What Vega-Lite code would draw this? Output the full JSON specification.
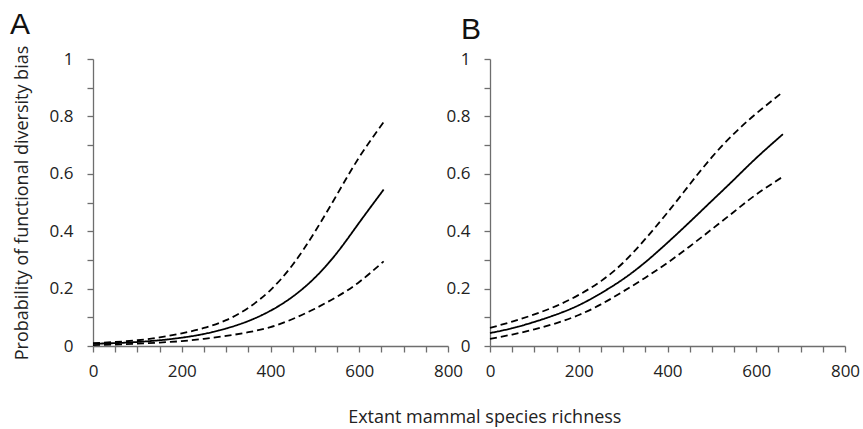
{
  "$schema": "https://vega.github.io/schema/vega-lite/v6.json",
  "background": "white",
  "padding": {"left": 10, "top": 10, "right": 0, "bottom": 0},
  "bounds": "flush",
  "spacing": 42,
  "config": {
    "font": "Open Sans",
    "view": {"stroke": null},
    "axis": {
      "grid": false,
      "ticks": true,
      "domainColor": "#6e6e6e",
      "tickColor": "#6e6e6e",
      "tickOpacity": 1,
      "domainWidth": 1.3,
      "tickWidth": 1.3,
      "tickSize": 6,
      "labelColor": "#222222",
      "labelFont": "Open Sans",
      "labelFontSize": 17,
      "titleFont": "Open Sans",
      "titleFontSize": 18,
      "titleFontWeight": "normal",
      "titleColor": "#222222"
    }
  },
  "title": {
    "text": "Extant mammal species richness",
    "orient": "bottom",
    "anchor": "middle",
    "font": "Open Sans",
    "fontSize": 18,
    "fontWeight": "normal",
    "color": "#222222",
    "offset": 30,
    "dx": 50
  },
  "datasets": {
    "curves": [
      {"panel": "A", "series": "mean", "x": 0, "p": 0.008},
      {"panel": "A", "series": "mean", "x": 50, "p": 0.01},
      {"panel": "A", "series": "mean", "x": 100, "p": 0.014},
      {"panel": "A", "series": "mean", "x": 150, "p": 0.02},
      {"panel": "A", "series": "mean", "x": 200, "p": 0.029},
      {"panel": "A", "series": "mean", "x": 250, "p": 0.042},
      {"panel": "A", "series": "mean", "x": 300, "p": 0.061},
      {"panel": "A", "series": "mean", "x": 350, "p": 0.087},
      {"panel": "A", "series": "mean", "x": 400, "p": 0.123},
      {"panel": "A", "series": "mean", "x": 450, "p": 0.172},
      {"panel": "A", "series": "mean", "x": 500, "p": 0.238},
      {"panel": "A", "series": "mean", "x": 550, "p": 0.325},
      {"panel": "A", "series": "mean", "x": 600, "p": 0.43},
      {"panel": "A", "series": "mean", "x": 655, "p": 0.545},
      {"panel": "A", "series": "upper", "x": 0, "p": 0.01},
      {"panel": "A", "series": "upper", "x": 50, "p": 0.014},
      {"panel": "A", "series": "upper", "x": 100, "p": 0.02},
      {"panel": "A", "series": "upper", "x": 150, "p": 0.03},
      {"panel": "A", "series": "upper", "x": 200, "p": 0.044},
      {"panel": "A", "series": "upper", "x": 250, "p": 0.063},
      {"panel": "A", "series": "upper", "x": 300, "p": 0.09},
      {"panel": "A", "series": "upper", "x": 350, "p": 0.133},
      {"panel": "A", "series": "upper", "x": 400, "p": 0.195},
      {"panel": "A", "series": "upper", "x": 450, "p": 0.283},
      {"panel": "A", "series": "upper", "x": 500, "p": 0.398},
      {"panel": "A", "series": "upper", "x": 550, "p": 0.528},
      {"panel": "A", "series": "upper", "x": 600, "p": 0.658},
      {"panel": "A", "series": "upper", "x": 655, "p": 0.78},
      {"panel": "A", "series": "lower", "x": 0, "p": 0.003},
      {"panel": "A", "series": "lower", "x": 50, "p": 0.005},
      {"panel": "A", "series": "lower", "x": 100, "p": 0.008},
      {"panel": "A", "series": "lower", "x": 150, "p": 0.012},
      {"panel": "A", "series": "lower", "x": 200, "p": 0.017},
      {"panel": "A", "series": "lower", "x": 250, "p": 0.025},
      {"panel": "A", "series": "lower", "x": 300, "p": 0.035},
      {"panel": "A", "series": "lower", "x": 350, "p": 0.048},
      {"panel": "A", "series": "lower", "x": 400, "p": 0.066},
      {"panel": "A", "series": "lower", "x": 450, "p": 0.094},
      {"panel": "A", "series": "lower", "x": 500, "p": 0.13},
      {"panel": "A", "series": "lower", "x": 550, "p": 0.172},
      {"panel": "A", "series": "lower", "x": 600, "p": 0.223},
      {"panel": "A", "series": "lower", "x": 655, "p": 0.295},
      {"panel": "B", "series": "mean", "x": 0, "p": 0.045},
      {"panel": "B", "series": "mean", "x": 50, "p": 0.062},
      {"panel": "B", "series": "mean", "x": 100, "p": 0.084},
      {"panel": "B", "series": "mean", "x": 150, "p": 0.11},
      {"panel": "B", "series": "mean", "x": 200, "p": 0.142},
      {"panel": "B", "series": "mean", "x": 250, "p": 0.184},
      {"panel": "B", "series": "mean", "x": 300, "p": 0.233},
      {"panel": "B", "series": "mean", "x": 350, "p": 0.292},
      {"panel": "B", "series": "mean", "x": 400, "p": 0.36},
      {"panel": "B", "series": "mean", "x": 450, "p": 0.432},
      {"panel": "B", "series": "mean", "x": 500, "p": 0.506},
      {"panel": "B", "series": "mean", "x": 550, "p": 0.58},
      {"panel": "B", "series": "mean", "x": 600, "p": 0.655},
      {"panel": "B", "series": "mean", "x": 660, "p": 0.738},
      {"panel": "B", "series": "upper", "x": 0, "p": 0.063},
      {"panel": "B", "series": "upper", "x": 50, "p": 0.085},
      {"panel": "B", "series": "upper", "x": 100, "p": 0.11},
      {"panel": "B", "series": "upper", "x": 150, "p": 0.14},
      {"panel": "B", "series": "upper", "x": 200, "p": 0.178},
      {"panel": "B", "series": "upper", "x": 250, "p": 0.226},
      {"panel": "B", "series": "upper", "x": 300, "p": 0.29},
      {"panel": "B", "series": "upper", "x": 350, "p": 0.373},
      {"panel": "B", "series": "upper", "x": 400, "p": 0.465},
      {"panel": "B", "series": "upper", "x": 450, "p": 0.563},
      {"panel": "B", "series": "upper", "x": 500, "p": 0.658},
      {"panel": "B", "series": "upper", "x": 550, "p": 0.74},
      {"panel": "B", "series": "upper", "x": 600, "p": 0.81},
      {"panel": "B", "series": "upper", "x": 660, "p": 0.885},
      {"panel": "B", "series": "lower", "x": 0, "p": 0.025},
      {"panel": "B", "series": "lower", "x": 50, "p": 0.04},
      {"panel": "B", "series": "lower", "x": 100, "p": 0.058},
      {"panel": "B", "series": "lower", "x": 150, "p": 0.08},
      {"panel": "B", "series": "lower", "x": 200, "p": 0.108},
      {"panel": "B", "series": "lower", "x": 250, "p": 0.145},
      {"panel": "B", "series": "lower", "x": 300, "p": 0.19},
      {"panel": "B", "series": "lower", "x": 350, "p": 0.238},
      {"panel": "B", "series": "lower", "x": 400, "p": 0.29},
      {"panel": "B", "series": "lower", "x": 450, "p": 0.347},
      {"panel": "B", "series": "lower", "x": 500, "p": 0.407},
      {"panel": "B", "series": "lower", "x": 550, "p": 0.468},
      {"panel": "B", "series": "lower", "x": 600, "p": 0.528},
      {"panel": "B", "series": "lower", "x": 660, "p": 0.59}
    ]
  },
  "hconcat": [
    {
      "title": {"text": "A", "anchor": "start", "frame": "group", "font": "Liberation Sans", "fontSize": 30, "fontWeight": "normal", "color": "#111111", "dx": -83, "offset": 5},
      "width": 355,
      "height": 287,
      "data": {"name": "curves"},
      "transform": [{"filter": "datum.panel == 'A'"}],
      "mark": {"type": "line", "color": "black", "strokeWidth": 1.8, "interpolate": "natural"},
      "encoding": {
        "x": {"field": "x", "type": "quantitative", "scale": {"domain": [0, 800], "nice": false},
          "axis": {"title": null, "ticks": true, "tickSize": 6, "tickColor": "#6e6e6e", "tickWidth": 1.3, "tickOpacity": 1, "values": [0, 50, 100, 150, 200, 250, 300, 350, 400, 450, 500, 550, 600, 650, 700, 750, 800], "labelExpr": "datum.value % 200 == 0 ? datum.label : ''", "format": "d", "labelPadding": 11, "labelFlush": false}},
        "y": {"field": "p", "type": "quantitative", "scale": {"domain": [0, 1], "nice": false},
          "axis": {"title": "Probability of functional diversity bias", "ticks": true, "tickSize": 6, "tickColor": "#6e6e6e", "tickWidth": 1.3, "tickOpacity": 1, "titlePadding": 18, "values": [0, 0.1, 0.2, 0.3, 0.4, 0.5, 0.6, 0.7, 0.8, 0.9, 1], "format": "~g", "labelExpr": "round(datum.value * 10) % 2 == 0 ? datum.label : ''", "labelPadding": 14}},
        "detail": {"field": "series"},
        "strokeDash": {"field": "series", "type": "nominal", "scale": {"domain": ["lower", "mean", "upper"], "range": [[7, 4], [1, 0], [7, 4]]}, "legend": null}
      }
    },
    {
      "title": {"text": "B", "anchor": "start", "frame": "group", "font": "Liberation Sans", "fontSize": 30, "fontWeight": "normal", "color": "#111111", "dx": -29, "offset": 5},
      "width": 355,
      "height": 287,
      "data": {"name": "curves"},
      "transform": [{"filter": "datum.panel == 'B'"}],
      "mark": {"type": "line", "color": "black", "strokeWidth": 1.8, "interpolate": "natural"},
      "encoding": {
        "x": {"field": "x", "type": "quantitative", "scale": {"domain": [0, 800], "nice": false},
          "axis": {"title": null, "ticks": true, "tickSize": 6, "tickColor": "#6e6e6e", "tickWidth": 1.3, "tickOpacity": 1, "values": [0, 50, 100, 150, 200, 250, 300, 350, 400, 450, 500, 550, 600, 650, 700, 750, 800], "labelExpr": "datum.value % 200 == 0 ? datum.label : ''", "format": "d", "labelPadding": 11, "labelFlush": false}},
        "y": {"field": "p", "type": "quantitative", "scale": {"domain": [0, 1], "nice": false},
          "axis": {"title": null, "ticks": true, "tickSize": 6, "tickColor": "#6e6e6e", "tickWidth": 1.3, "tickOpacity": 1, "values": [0, 0.1, 0.2, 0.3, 0.4, 0.5, 0.6, 0.7, 0.8, 0.9, 1], "format": "~g", "labelExpr": "round(datum.value * 10) % 2 == 0 ? datum.label : ''", "labelPadding": 14}},
        "detail": {"field": "series"},
        "strokeDash": {"field": "series", "type": "nominal", "scale": {"domain": ["lower", "mean", "upper"], "range": [[7, 4], [1, 0], [7, 4]]}, "legend": null}
      }
    }
  ]
}
